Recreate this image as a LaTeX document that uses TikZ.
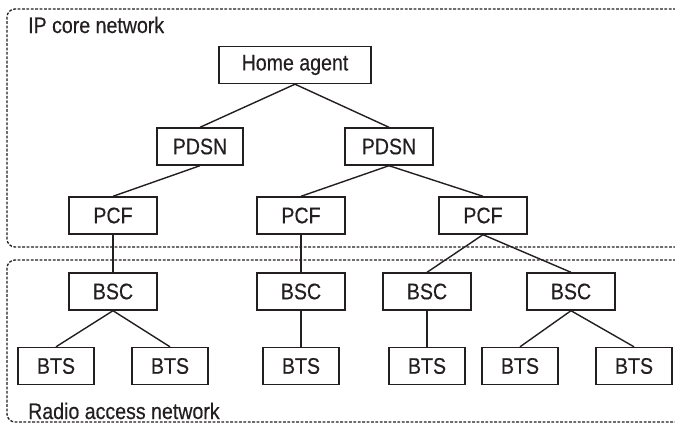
\documentclass[tikz,border=0pt]{standalone}
\usepackage{fontspec}
\setmainfont{Liberation Sans}[FakeStretch=0.87,FakeBold=0.4]
\definecolor{ink}{HTML}{231F20}
\begin{document}
\begin{tikzpicture}[x=1pt,y=-1pt,
  box/.style={draw=ink,line width=1.4pt,minimum height=37pt,inner sep=0pt,
    text=ink,font=\fontsize{22.5}{26}\selectfont},
  link/.style={draw=ink,line width=1.4pt},
  region/.style={draw=ink,line width=1.3pt,dash pattern=on 2.8pt off 1.6pt,rounded corners=8pt},
  lab/.style={anchor=base west,inner sep=0pt,text=ink,font=\fontsize{22.5}{26}\selectfont}]
\useasboundingbox (0,0) rectangle (675,423);
% regions
\draw[region] (676,9) -- (7,9) -- (7,247) -- (676,247);
\draw[region] (676,260) -- (7,260) -- (7,422) -- (676,422);
\node[lab] (iplab) at (28,33) {IP core network};
\node[lab] (ranlab) at (28,419) {Radio access network};
% nodes
\node[box,minimum width=152pt] (ha) at (295,65) {Home agent};
\node[box,minimum width=86pt] (pdsn1) at (200,146.5) {PDSN};
\node[box,minimum width=88pt] (pdsn2) at (389,146.5) {PDSN};
\node[box,minimum width=88pt] (pcf1) at (113,215.5) {PCF};
\node[box,minimum width=88pt] (pcf2) at (301,215.5) {PCF};
\node[box,minimum width=88pt] (pcf3) at (483,215.5) {PCF};
\node[box,minimum width=88pt] (bsc1) at (113,291.5) {BSC};
\node[box,minimum width=88pt] (bsc2) at (301,291.5) {BSC};
\node[box,minimum width=88pt] (bsc3) at (427,291.5) {BSC};
\node[box,minimum width=88pt] (bsc4) at (571,291.5) {BSC};
\node[box,minimum width=76pt] (bts1) at (56,366) {BTS};
\node[box,minimum width=76pt] (bts2) at (170,366) {BTS};
\node[box,minimum width=76pt] (bts3) at (301,366) {BTS};
\node[box,minimum width=76pt] (bts4) at (427,366) {BTS};
\node[box,minimum width=76pt] (bts5) at (520,366) {BTS};
\node[box,minimum width=76pt] (bts6) at (634,366) {BTS};
% links
\draw[link] (ha.south) -- (pdsn1.north);
\draw[link] (ha.south) -- (pdsn2.north);
\draw[link] (pdsn1.south) -- (pcf1.north);
\draw[link] (pdsn2.south) -- (pcf2.north);
\draw[link] (pdsn2.south) -- (pcf3.north);
\draw[link] (pcf1.south) -- (bsc1.north);
\draw[link] (pcf2.south) -- (bsc2.north);
\draw[link] (pcf3.south) -- (bsc3.north);
\draw[link] (pcf3.south) -- (bsc4.north);
\draw[link] (bsc1.south) -- (bts1.north);
\draw[link] (bsc1.south) -- (bts2.north);
\draw[link] (bsc2.south) -- (bts3.north);
\draw[link] (bsc3.south) -- (bts4.north);
\draw[link] (bsc4.south) -- (bts5.north);
\draw[link] (bsc4.south) -- (bts6.north);
\end{tikzpicture}
\end{document}
